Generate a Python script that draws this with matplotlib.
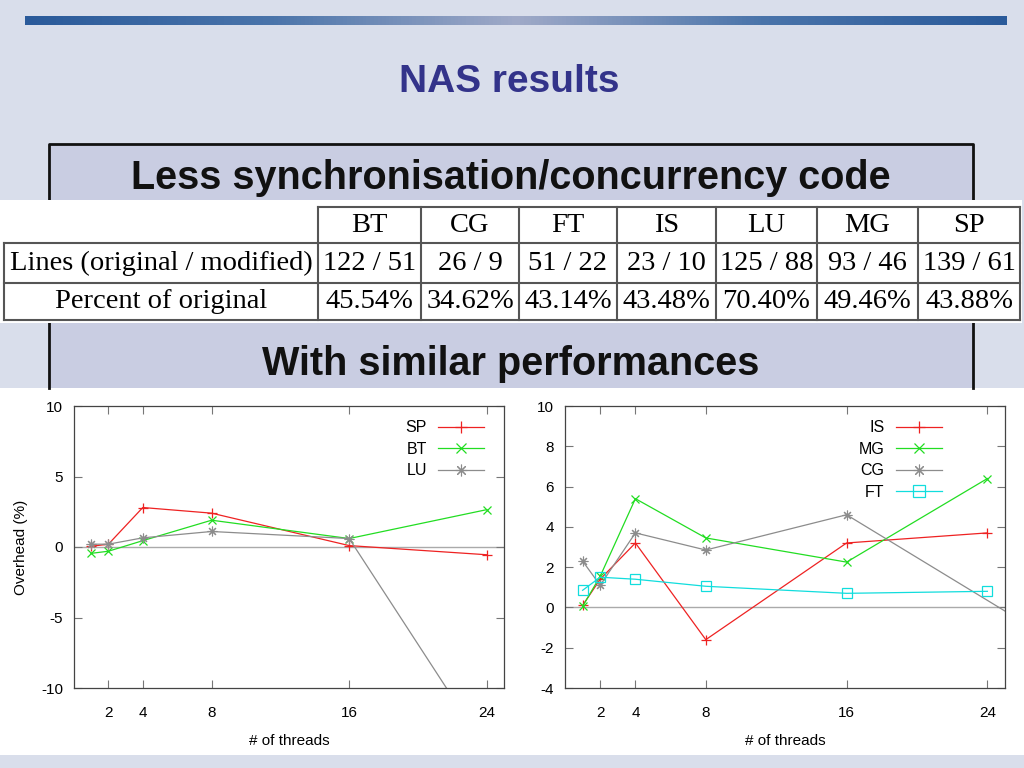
import numpy as np
import matplotlib
matplotlib.use("Agg")
import matplotlib.pyplot as plt
from matplotlib.colors import LinearSegmentedColormap
from matplotlib.patches import Rectangle

# table data
benchmarks = ["BT", "CG", "FT", "IS", "LU", "MG", "SP"]
lines_orig_mod = ["122 / 51", "26 / 9", "51 / 22", "23 / 10", "125 / 88", "93 / 46", "139 / 61"]
percent_orig = ["45.54%", "34.62%", "43.14%", "43.48%", "70.40%", "49.46%", "43.88%"]

# overhead (%) vs number of threads
threads = [1, 2, 4, 8, 16, 24]
sp = [0.05, 0.2, 2.8, 2.4, 0.1, -0.55]
bt = [-0.45, -0.3, 0.45, 1.9, 0.6, 2.65]
lu = [0.2, 0.2, 0.65, 1.1, 0.6, -14.4]

is_ = [0.1, 1.4, 3.2, -1.6, 3.2, 3.7]
mg = [0.05, 1.55, 5.4, 3.45, 2.25, 6.4]
cg_threads = [1, 2, 4, 8, 16, 32]
cg = [2.3, 1.1, 3.7, 2.85, 4.6, -3.9]
ft = [0.85, 1.5, 1.4, 1.05, 0.7, 0.8]

xticks = [2, 4, 8, 16, 24]

SLIDE_BG = "#d9deeb"
BOX_BG = "#c9cde2"
TITLE_COL = "#33338a"
RED = "#ee2222"
GREEN = "#22dd22"
GREY = "#8c8c8c"
CYAN = "#11dddd"
ASTER = (8, 2, 0)

plt.rcParams['font.family'] = ['Liberation Sans', 'DejaVu Sans']
plt.rcParams['axes.unicode_minus'] = False

fig = plt.figure(figsize=(10.24, 7.68), dpi=100)
fig.patch.set_facecolor(SLIDE_BG)

# background layer in pixel coordinates
bg = fig.add_axes([0, 0, 1, 1], zorder=0)
bg.set_xlim(0, 1024)
bg.set_ylim(768, 0)
bg.axis("off")

# top gradient bar
cmap = LinearSegmentedColormap.from_list("bar", ["#2a5a9a", "#4a74aa", "#a0aac8", "#4a74aa", "#2a5a9a"])
grad = np.linspace(0, 1, 256).reshape(1, -1)
bg.imshow(grad, cmap=cmap, aspect="auto", extent=[25, 1007, 25.5, 16.5], zorder=1)

bg.text(509, 82, "NAS results", ha="center", va="center", fontsize=28,
        fontweight="bold", color=TITLE_COL)

# box behind table
bg.add_patch(Rectangle((49, 144), 924, 244, facecolor=BOX_BG, edgecolor="none", zorder=1))
bg.plot([49, 49, 973, 973], [388, 144, 144, 388], color="#111111", lw=2, zorder=2)
bg.text(511, 178, "Less synchronisation/concurrency code", ha="center", va="center",
        fontsize=28.5, fontweight="bold", color="#111111", zorder=3)
bg.text(511, 364, "With similar performances", ha="center", va="center",
        fontsize=28.5, fontweight="bold", color="#111111", zorder=3)

# table
bg.add_patch(Rectangle((0, 200), 1022, 123, facecolor="white", edgecolor="none", zorder=4))
col_x = [4, 318, 421, 519, 617, 716, 817, 918, 1020]
row_y = [207, 243, 283, 320]
tcol = "#555555"
for y in row_y:
    x0 = col_x[1] if y == row_y[0] else col_x[0]
    bg.plot([x0, col_x[-1]], [y, y], color=tcol, lw=1.5, zorder=5)
bg.plot([col_x[0], col_x[0]], [row_y[1], row_y[-1]], color=tcol, lw=1.5, zorder=5)
for x in col_x[1:]:
    bg.plot([x, x], [row_y[0], row_y[-1]], color=tcol, lw=1.5, zorder=5)

serif = ['Liberation Serif', 'DejaVu Serif']
tfs = 20.5
mid = [(row_y[i] + row_y[i + 1]) / 2 for i in range(3)]
bg.text(161, mid[1], "Lines (original / modified)", ha="center", va="center",
        fontsize=tfs, family=serif, zorder=6)
bg.text(161, mid[2], "Percent of original", ha="center", va="center",
        fontsize=tfs, family=serif, zorder=6)
for i, name in enumerate(benchmarks):
    cx = (col_x[i + 1] + col_x[i + 2]) / 2
    bg.text(cx, mid[0], name, ha="center", va="center", fontsize=tfs, family=serif, zorder=6)
    bg.text(cx, mid[1], lines_orig_mod[i], ha="center", va="center", fontsize=tfs,
            family=serif, zorder=6)
    bg.text(cx, mid[2], percent_orig[i], ha="center", va="center", fontsize=tfs,
            family=serif, zorder=6)

# white area for the plots
bg.add_patch(Rectangle((0, 388), 1024, 367, facecolor="white", edgecolor="none", zorder=1))


def style_axes(ax, ylim, yticks, anchor):
    ax.set_xlim(0, 25)
    ax.set_ylim(*ylim)
    ax.set_xticks(xticks)
    ax.set_yticks(yticks)
    ax.axhline(0, color="#aaaaaa", lw=1, zorder=1)
    ax.tick_params(direction="in", top=True, right=True, length=6, width=0.8,
                   color="#777777", labelsize=11)
    ax.tick_params(axis="x", pad=13)
    ax.tick_params(axis="y", pad=8)
    for s in ax.spines.values():
        s.set_color("#444444")
        s.set_linewidth(0.9)
    ax.set_xlabel("# of threads", fontsize=11, labelpad=10)
    ax.legend(loc="upper right", bbox_to_anchor=anchor, frameon=False, markerfirst=False,
              fontsize=11.5, handlelength=2.9, labelspacing=0.4, borderaxespad=0.5,
              handletextpad=0.7, markerscale=1.2)


ms = 7
ax1 = fig.add_axes([74 / 1024, 1 - 688 / 768, 430 / 1024, 282 / 768], zorder=2)
ax1.set_facecolor("white")
ax1.plot(threads, sp, color=RED, lw=0.9, marker="+", ms=ms, mew=0.9, label="SP")
ax1.plot(threads, bt, color=GREEN, lw=0.9, marker="x", ms=ms - 1, mew=0.9, label="BT")
ax1.plot(threads, lu, color=GREY, lw=0.9, marker=ASTER, ms=ms, mew=0.8, label="LU")
style_axes(ax1, (-10, 10), [-10, -5, 0, 5, 10], (0.988, 1.0))
ax1.set_ylabel("Overhead (%)", fontsize=11, labelpad=9)

ax2 = fig.add_axes([565 / 1024, 1 - 688 / 768, 440 / 1024, 282 / 768], zorder=2)
ax2.set_facecolor("white")
ax2.plot(threads, is_, color=RED, lw=0.9, marker="+", ms=ms, mew=0.9, label="IS")
ax2.plot(threads, mg, color=GREEN, lw=0.9, marker="x", ms=ms - 1, mew=0.9, label="MG")
ax2.plot(cg_threads, cg, color=GREY, lw=0.9, marker=ASTER, ms=ms, mew=0.8, label="CG")
ax2.plot(threads, ft, color=CYAN, lw=0.9, marker="s", ms=ms, mew=0.9,
         markerfacecolor="none", label="FT")
style_axes(ax2, (-4, 10), [-4, -2, 0, 2, 4, 6, 8, 10], (0.89, 1.0))

fig.savefig("out.png", dpi=100, facecolor=fig.get_facecolor())
